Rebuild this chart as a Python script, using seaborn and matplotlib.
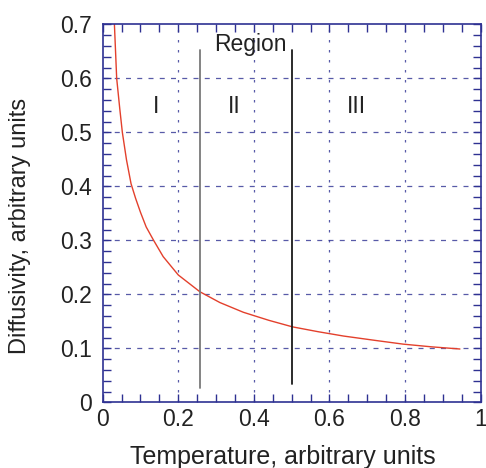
import matplotlib
matplotlib.use("Agg")
import matplotlib.pyplot as plt
from matplotlib.ticker import MultipleLocator
import seaborn as sns
import pandas as pd

# Data
temperature = [0.031, 0.037, 0.045, 0.052, 0.063, 0.075, 0.087, 0.100, 0.115, 0.134,
               0.160, 0.200, 0.257, 0.310, 0.372, 0.440, 0.502, 0.570, 0.637, 0.720,
               0.795, 0.870, 0.945]
diffusivity = [0.700, 0.600, 0.545, 0.500, 0.449, 0.405, 0.378, 0.352, 0.325, 0.301,
               0.270, 0.236, 0.205, 0.185, 0.167, 0.152, 0.140, 0.131, 0.123, 0.115,
               0.108, 0.103, 0.099]
region_bounds = [0.257, 0.502]
region_line_ymin = [0.027, 0.034]
region_line_ymax = [0.652, 0.652]
region_line_colors = ["#7a7a7a", "#1a1a1a"]
region_labels = ["I", "II", "III"]
region_label_x = [0.140, 0.347, 0.672]
region_label_y = 0.548
x_tick_labels = ["0", "0.2", "0.4", "0.6", "0.8", "1"]
y_tick_labels = ["0", "0.1", "0.2", "0.3", "0.4", "0.5", "0.6", "0.7"]

sns.set_style("white")
plt.rcParams['font.family'] = ['Liberation Sans', 'DejaVu Sans']

frame = "#2e3192"
txt = "#222222"
fig = plt.figure(figsize=(4.86, 4.68), dpi=100)
ax = fig.add_axes([0.2113, 0.140, 0.7778, 0.808])

df = pd.DataFrame({"T": temperature, "D": diffusivity})
sns.lineplot(data=df, x="T", y="D", ax=ax, color="#e3402c", linewidth=1.0, sort=False)

for xb, y0, y1, c in zip(region_bounds, region_line_ymin, region_line_ymax, region_line_colors):
    ax.plot([xb, xb], [y0, y1], color=c, linewidth=1.3)

for lab, lx in zip(region_labels, region_label_x):
    ax.text(lx, region_label_y, lab, ha="center", va="center", fontsize=16.5, color=txt)
ax.text(0.39, 0.662, "Region", ha="center", va="center", fontsize=16.5, color=txt)

ax.set_xlim(0, 1)
ax.set_ylim(0, 0.7)
ax.set_xticks([0, 0.2, 0.4, 0.6, 0.8, 1.0])
ax.set_xticklabels(x_tick_labels)
ax.set_yticks([0, 0.1, 0.2, 0.3, 0.4, 0.5, 0.6, 0.7])
ax.set_yticklabels(y_tick_labels)
ax.xaxis.set_minor_locator(MultipleLocator(0.05))
ax.yaxis.set_minor_locator(MultipleLocator(0.02))

for xv in [0.2, 0.4, 0.6, 0.8]:
    ax.axvline(xv, color=frame, linewidth=0.9, linestyle=(0, (2, 6)), alpha=0.8, zorder=0)
for yv in [0.1, 0.2, 0.3, 0.4, 0.5, 0.6]:
    ax.axhline(yv, color=frame, linewidth=0.9, linestyle=(0, (4, 5)), alpha=0.8, zorder=0)

ax.tick_params(which="both", direction="in", top=True, right=True, bottom=True, left=True,
               color=frame, labelsize=16.5, labelcolor=txt)
ax.tick_params(axis="x", which="both", pad=4)
ax.tick_params(axis="y", which="both", pad=8)
ax.tick_params(which="major", length=6, width=1)
ax.tick_params(which="minor", length=6, width=1)
for s in ax.spines.values():
    s.set_color(frame)
    s.set_linewidth(1.2)

ax.set_xlabel("Temperature, arbitrary units", fontsize=18, color=txt, va="center")
ax.set_ylabel("Diffusivity, arbitrary units", fontsize=17, color=txt, va="center")
ax.xaxis.set_label_coords(0.477, -0.145)
ax.yaxis.set_label_coords(-0.219, 0.468)

fig.savefig("out.png", dpi=100)
